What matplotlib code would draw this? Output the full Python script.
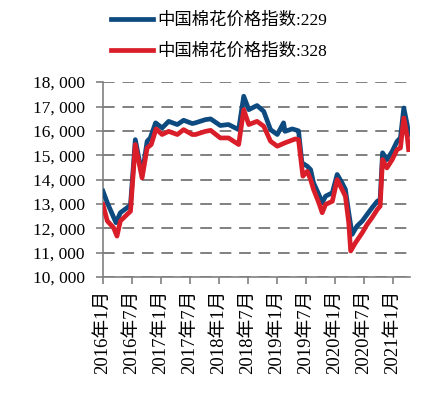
import matplotlib
matplotlib.use("Agg")
import matplotlib.pyplot as plt
from matplotlib.ticker import FuncFormatter

plt.rcParams['font.family'] = ['Liberation Serif', 'Noto Sans CJK SC', 'DejaVu Sans']

# months since 2016-01
months_229 = [0, 0.9, 2.7, 3.6, 5, 5.7, 6.7, 8.1, 9.15, 9.8, 10.9, 12.25, 13.6, 15.4, 16.7, 18.5,
              19.15, 21.2, 22.3, 24.3, 26, 28.1, 29.15, 30.2, 31.9, 33.3, 34.7, 36.1, 37.4, 37.7,
              39.2, 40.2, 40.5, 41.2, 42.3, 43, 43.6, 44.7, 45.4, 46.1, 47.5, 48.5, 49.5, 50.2,
              50.9, 51.6, 52.6, 53.7, 54.7, 55.7, 56.8, 57.4, 57.9, 58.8, 59.9, 60.9, 61.6, 62.3,
              63, 63.3]
values_229 = [13525, 13050, 12230, 12640, 12845, 12950, 15640, 14200, 15575, 15710, 16330, 16120,
              16390, 16260, 16435, 16300, 16330, 16460, 16490, 16220, 16260, 16050, 17420, 16870,
              17040, 16800, 16050, 15850, 16330, 15980, 16080, 16020, 16000, 14690, 14550, 14410,
              13870, 13390, 13050, 13320, 13460, 14210, 13870, 13600, 12640, 11750, 12090, 12300,
              12570, 12840, 13110, 13180, 15100, 14820, 15160, 15570, 15710, 16940, 16260, 15850]

months_328 = [0, 0.9, 2.2, 2.9, 3.6, 5, 5.7, 6.7, 8.1, 9.15, 10, 11, 12.25, 13.6, 15.4, 16.7, 18.5,
              19.15, 21.2, 22.3, 24.3, 26, 28.1, 29.15, 30.2, 31.9, 33.3, 34.7, 36.1, 37.7, 39.85,
              40.5, 41.4, 42.3, 43, 43.6, 44.7, 45.4, 46.1, 47.5, 48.5, 49.5, 50.2, 50.9, 51.3,
              52.3, 53.7, 54.7, 55.7, 56.8, 57.4, 57.9, 58.8, 59.9, 60.9, 61.6, 62.3, 63, 63.3]
values_328 = [12980, 12300, 12025, 11680, 12300, 12570, 12700, 15440, 14070, 15300, 15440, 16080,
              15850, 15980, 15850, 16050, 15850, 15850, 15980, 16020, 15710, 15710, 15440, 16870,
              16260, 16390, 16190, 15575, 15370, 15510, 15670, 15640, 14140, 14340, 14000, 13600,
              13050, 12640, 12980, 13110, 14000, 13600, 13320, 12230, 11070, 11410, 11820, 12160,
              12430, 12770, 12910, 14820, 14480, 14820, 15230, 15300, 16530, 15780, 15230]

tick_months = [0, 6, 12, 18, 24, 30, 36, 42, 48, 54, 60]
tick_labels = ['2016年1月', '2016年7月', '2017年1月', '2017年7月', '2018年1月', '2018年7月',
               '2019年1月', '2019年7月', '2020年1月', '2020年7月', '2021年1月']
series_names = ['中国棉花价格指数:229', '中国棉花价格指数:328']

blue = '#0d4a80'
red = '#d91e2a'
grey = '#808080'

fig = plt.figure(figsize=(4.4, 3.93), dpi=100)
ax = fig.add_axes([0.234, 0.295, 0.698, 0.496])

l1, = ax.plot(months_229, values_229, color=blue, lw=3.4, solid_joinstyle='round', zorder=3)
l2, = ax.plot(months_328, values_328, color=red, lw=3.4, solid_joinstyle='round', zorder=4)

ax.set_ylim(10000, 18000)
ax.set_xlim(0, 63.6)
ax.set_yticks(range(10000, 18001, 1000))
ax.yaxis.set_major_formatter(FuncFormatter(lambda v, p: f"{int(v)//1000}, {int(v)%1000:03d}"))
ax.set_xticks(tick_months)
ax.set_xticklabels(tick_labels, rotation=90)

ax.grid(axis='y', color=grey, lw=1.4, ls=(0, (6, 4)))
ax.set_axisbelow(True)
for s in ['top', 'right']:
    ax.spines[s].set_visible(False)
for s in ['left', 'bottom']:
    ax.spines[s].set_color(grey)
    ax.spines[s].set_linewidth(1.2)
ax.tick_params(axis='y', length=5, width=1.2, color=grey, labelsize=12.5, pad=8)
ax.tick_params(axis='x', length=5, width=1.2, color=grey, labelsize=13.5, pad=4)

fig.legend([l1, l2], series_names, loc='upper left', bbox_to_anchor=(111 / 440, 1 - 13 / 393),
           frameon=False, fontsize=12.5, handlelength=2.4, handletextpad=0.25,
           labelspacing=0.85, borderaxespad=0, borderpad=0)

fig.savefig('out.png', dpi=100)
